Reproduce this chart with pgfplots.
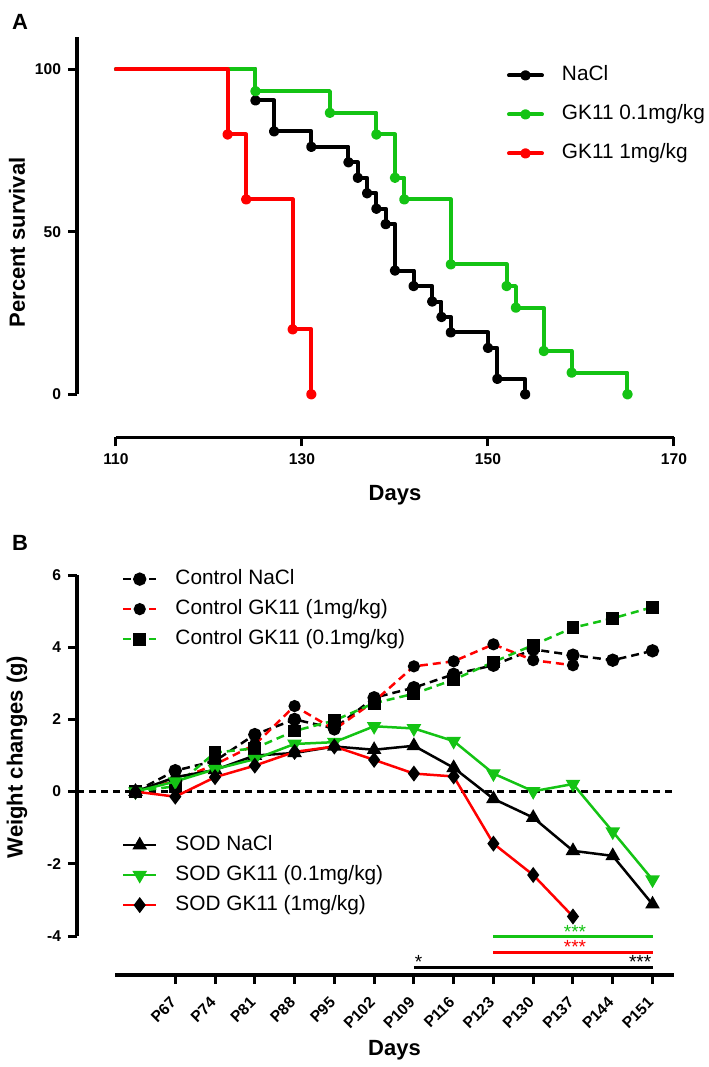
\documentclass[border=0pt]{standalone}
\usepackage{fontspec}
\setmainfont{Liberation Sans}
\usepackage{pgfplots}
\pgfplotsset{compat=1.18}
\definecolor{pgreen}{RGB}{20,195,20}
\definecolor{pred}{RGB}{255,0,0}
\pgfplotsset{
  prism/.style={
    scale only axis, clip=false,
    axis lines=left,
    axis line style={line width=1.75pt,-},
    major tick style={line width=1.5pt,black},
    tick align=outside, major tick length=4.5pt,
    tick label style={font=\bfseries\fontsize{7.8}{8}\selectfont},
    /pgf/number format/assume math mode=true,
    label style={font=\bfseries\fontsize{11}{12}\selectfont},
    legend cell align=left,
    legend style={draw=none, fill=none, inner sep=0pt, outer sep=0pt,
      font=\fontsize{10.4}{11}\selectfont,
      nodes={inner sep=0pt, text height=7.5pt, text depth=2.2pt},
      column sep=9pt, anchor=north west},
    legend image code/.code={\draw[#1, mark repeat=2, mark phase=2] plot coordinates {(0pt,0pt) (8.25pt,0pt) (16.5pt,0pt)};},
  },
  surv/.style={const plot, line width=2pt, line join=round, line cap=round, mark=*, mark size=1.6pt, mark repeat=1, mark phase=2},
  ctrl/.style={line width=1.25pt, dash pattern=on 4pt off 2.5pt, mark options={solid, fill=black, draw=black}},
  sod/.style={line width=1.25pt, mark options={solid, fill=black, draw=black}},
}
\begin{document}
\begin{tikzpicture}
\useasboundingbox (0pt,0pt) rectangle (354pt,-533.5pt);
\node[font=\bfseries\fontsize{11}{12}\selectfont] at (10pt,-10.75pt) {A};
\node[font=\bfseries\fontsize{11}{12}\selectfont] at (10pt,-271.5pt) {B};
% ---------------- Panel A ----------------
\begin{axis}[prism,
  at={(58pt,-197.15pt)}, anchor=south west,
  width=279pt, height=178.65pt,
  xmin=110, xmax=170, ymin=0, ymax=110,
  xtick={110,130,150,170}, ytick={0,50,100},
  axis x line shift=21.5pt, axis y line shift=19.5pt,
  xlabel={Days}, ylabel={Percent survival},
  xlabel style={at={(axis description cs:0.5,-0.2818)}, anchor=center},
  ylabel style={at={(axis description cs:-0.1774,0.425)}, anchor=center},
  legend style={at={(axis description cs:0.7007,0.9197)}, row sep=9.8pt},
]
\addplot[surv, black] coordinates {
(110,100) (125,90.48) (127,80.95) (131,76.19) (135,71.43) (136,66.67) (137,61.90)
(138,57.14) (139,52.38) (140,38.10) (142,33.33) (144,28.57) (145,23.81) (146,19.05)
(150,14.29) (151,4.76) (154,0)};
\addlegendentry{NaCl}
\addplot[surv, pgreen] coordinates {
(110,100) (125,93.33) (133,86.67) (138,80) (140,66.67) (141,60) (146,40) (152,33.33)
(153,26.67) (156,13.33) (159,6.67) (165,0)};
\addlegendentry{GK11 0.1mg/kg}
\addplot[surv, pred] coordinates {
(110,100) (122,80) (124,60) (129,20) (131,0)};
\addlegendentry{GK11 1mg/kg}
\end{axis}
% ---------------- Panel B (controls + axes) ----------------
\begin{axis}[prism,
  at={(57.5pt,-468pt)}, anchor=south west,
  width=279.5pt, height=180.5pt,
  xmin=-0.515, xmax=13.54, ymin=-4, ymax=6,
  xtick={1,...,13},
  xticklabels={P67,P74,P81,P88,P95,P102,P109,P116,P123,P130,P137,P144,P151},
  ytick={-4,-2,0,2,4,6},
  axis x line shift=19.5pt, axis y line shift=19pt,
  xticklabel style={yshift=-5.5pt, xshift=1.5pt, rotate=45, anchor=east},
  xlabel={Days}, ylabel={Weight changes (g)},
  xlabel style={at={(axis description cs:0.5,-0.3158)}, anchor=center},
  ylabel style={at={(axis description cs:-0.1753,0.496)}, anchor=center},
  legend style={at={(axis description cs:0.0125,1.0155)}, row sep=5.3pt},
]
\addplot[black, line width=1.5pt, dash pattern=on 3.5pt off 2.5pt, forget plot] coordinates {(-1.47,0) (13.52,0)};
\addplot[ctrl, black, mark=*, mark size=2.7pt] coordinates {
(0,0) (1,0.58) (2,0.85) (3,1.58) (4,2.0) (5,1.75) (6,2.6) (7,2.88) (8,3.25) (9,3.5) (10,3.94) (11,3.78) (12,3.64) (13,3.90)};
\addlegendentry{Control NaCl}
\addplot[ctrl, pred, mark=*, mark size=2.4pt] coordinates {
(0,0) (1,0.3) (2,0.75) (3,1.3) (4,2.37) (5,1.72) (6,2.5) (7,3.47) (8,3.61) (9,4.08) (10,3.64) (11,3.5)};
\addlegendentry{Control GK11 (1mg/kg)}
\addplot[ctrl, pgreen, mark=square*, mark size=2.6pt] coordinates {
(0,0) (1,0.15) (2,1.08) (3,1.2) (4,1.68) (5,1.97) (6,2.45) (7,2.71) (8,3.10) (9,3.59) (10,4.06) (11,4.54) (12,4.80) (13,5.11)};
\addlegendentry{Control GK11 (0.1mg/kg)}
\end{axis}
% ---------------- Panel B (SOD) ----------------
\begin{axis}[prism, hide axis,
  at={(57.5pt,-468pt)}, anchor=south west,
  width=279.5pt, height=180.5pt,
  xmin=-0.515, xmax=13.54, ymin=-4, ymax=6,
  legend style={at={(axis description cs:0.0125,0.2787)}, row sep=5.3pt},
]
\addplot[sod, black, mark=triangle*, mark size=3pt] coordinates {
(0,0) (1,0.4) (2,0.6) (3,1.0) (4,1.07) (5,1.25) (6,1.16) (7,1.27) (8,0.66) (9,-0.20) (10,-0.72) (11,-1.64) (12,-1.78) (13,-3.12)};
\addlegendentry{SOD NaCl}
\addplot[sod, pgreen, mark=triangle*, mark size=3pt, mark options={rotate=180}] coordinates {
(0,0) (1,0.28) (2,0.62) (3,0.9) (4,1.32) (5,1.37) (6,1.81) (7,1.75) (8,1.40) (9,0.50) (10,0.01) (11,0.21) (12,-1.11) (13,-2.44)};
\addlegendentry{SOD GK11 (0.1mg/kg)}
\addplot[sod, pred, mark=diamond*, mark size=3pt] coordinates {
(0,0) (1,-0.14) (2,0.4) (3,0.72) (4,1.1) (5,1.25) (6,0.88) (7,0.5) (8,0.42) (9,-1.44) (10,-2.31) (11,-3.46)};
\addlegendentry{SOD GK11 (1mg/kg)}
% significance bars
\addplot[pgreen, line width=1.5pt, forget plot] coordinates {(9,-4.02) (13,-4.02)};
\addplot[pred, line width=1.5pt, forget plot] coordinates {(9,-4.47) (13,-4.47)};
\addplot[black, line width=1.5pt, forget plot] coordinates {(7,-4.86) (13,-4.86)};
\node[text=pgreen, font=\fontsize{9.5}{10}\selectfont, anchor=base, inner sep=0pt] at (axis cs:11.05,-4.07) {***};
\node[text=pred, font=\fontsize{9.5}{10}\selectfont, anchor=base, inner sep=0pt] at (axis cs:11.05,-4.49) {***};
\node[text=black, font=\fontsize{9.5}{10}\selectfont, anchor=base, inner sep=0pt] at (axis cs:12.69,-4.90) {***};
\node[text=black, font=\fontsize{9.5}{10}\selectfont, anchor=base, inner sep=0pt] at (axis cs:7.12,-4.90) {*};
\end{axis}
\end{tikzpicture}
\end{document}
